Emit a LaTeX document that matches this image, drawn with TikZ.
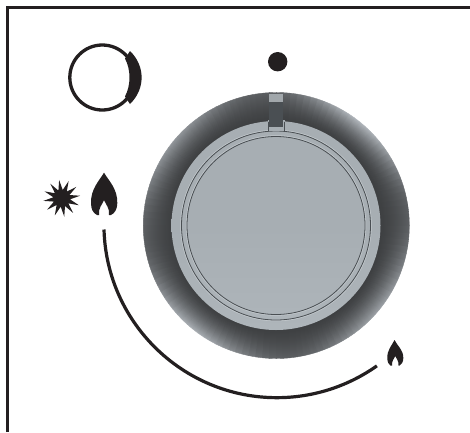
\documentclass[tikz,border=0pt]{standalone}
\usetikzlibrary{shapes.geometric}
\definecolor{ink}{HTML}{231F20}
\definecolor{disc}{HTML}{A7AEB3}
\definecolor{disclow}{HTML}{AEB5BA}
\definecolor{groove}{HTML}{4A4F53}
\definecolor{ridge}{HTML}{C3C9CD}
\tikzset{px/.style={x=1pt,y=-1pt},
  flamefill/.style={fill=ink,draw=none},
  ringline/.style={draw=groove,line width=.8pt},
  ringlight/.style={draw=ridge,line width=.8pt}}
\begin{document}
\begin{tikzpicture}[px]
\useasboundingbox (0,0) rectangle (470,432);
\fill[white] (0,0) rectangle (470,432);
\draw[ink,line width=2.6pt] (7.3,432) -- (7.3,7.3) -- (470,7.3);
% knob outer
\foreach \r in {133,132,...,105}{
 \foreach \a in {0,3,...,357}{
  \pgfmathsetmacro{\t}{(\r-104)/29}
  \pgfmathsetmacro{\s}{pow(sin(2*(\a-4)),2)}
  \pgfmathsetmacro{\w}{\a>0 && \a<90 ? 1 : (\a>270 ? .75 : (\a>180 ? .9 : .65))}
  \pgfmathsetmacro{\v}{min(100,25+(8+34*\s*\w)*pow(\t,1.6)+4*\t)}
  \pgfmathsetmacro{\vr}{\v/100*.97}
  \pgfmathsetmacro{\vg}{\v/100}
  \pgfmathsetmacro{\vb}{min(1,\v/100*1.03)}
  \definecolor{cc}{rgb}{\vr,\vg,\vb}
  \fill[cc,draw=cc,line width=.4pt] (276.3,225.5) -- ++(\a:\r pt) arc[start angle=\a,delta angle=3,radius=\r pt] -- cycle;
 }
}
% disc
\shade[top color=disc,bottom color=disclow,middle color=disc] (276,225.5) circle[radius=104.5];
\draw[ringlight] (276,225.5) circle[radius=95.3];
\draw[ringline] (276,225.5) circle[radius=94.5];
\draw[ringlight] (276,225.5) circle[radius=89.8];
\draw[ringline] (276,225.5) circle[radius=89];
% pointer
\fill[disc] (267.5,120) rectangle (285,130.5);
\fill[groove] (269.3,94) rectangle (282.7,127);
\fill[disc!85!gray] (269.3,94) rectangle (282.7,101.5);
\fill[disc] (271,127) rectangle (282,130.5);
\draw[groove,line width=.8pt] (268,121.5) -- (268,131);
\draw[groove,line width=.8pt] (284.7,121.5) -- (284.7,131);
% clock icon
\draw[ink,line width=3.3pt] (102.3,77.5) circle[radius=32.5];
\fill[ink] (125,58.5) -- (130,51) .. controls (145.5,66) and (145.5,89) .. (130,104) -- (125,96.5) .. controls (131,85) and (131,70) .. (125,58.5) -- cycle;
% dot
\node[circle,fill=ink,inner sep=0pt,minimum size=19.4pt] (dot) at (277.7,61.7) {};
% star
\node[star,star points=12,star point ratio=2.2,fill=ink,inner sep=0pt,minimum size=37pt,rotate=8] (spark) at (61.7,198.3) {};
% big flame
\fill[flamefill] (104,172.7) .. controls (109,181) and (117.6,189) .. (117.3,203) .. controls (117.3,209) and (115,213) .. (111,215) -- (109,215) .. controls (109.8,208) and (106,205) .. (104,200) .. controls (102,205) and (98.2,208) .. (99,215) -- (97,215) .. controls (93,213) and (91,209) .. (91,203) .. controls (90.7,189) and (99,181) .. (104,172.7) -- cycle;
% small flame
\fill[flamefill] (394.5,340) .. controls (397.5,346) and (403.5,350) .. (403.3,358) .. controls (403.3,362) and (401.5,364.5) .. (399.5,365.7) -- (398.5,365.7) .. controls (399,361) and (396.5,359) .. (395.3,356) .. controls (394,359) and (391.5,361) .. (392,365.7) -- (390.5,365.7) .. controls (388.8,364.5) and (387.3,362) .. (387.3,358) .. controls (387.1,350) and (391.5,346) .. (394.5,340) -- cycle;
% arc
\coordinate (arcstart) at (104,229.5);
\draw[ink,line width=3.2pt] (arcstart) arc[start angle=178.4,end angle=54.7,radius=173];
\end{tikzpicture}
\end{document}
